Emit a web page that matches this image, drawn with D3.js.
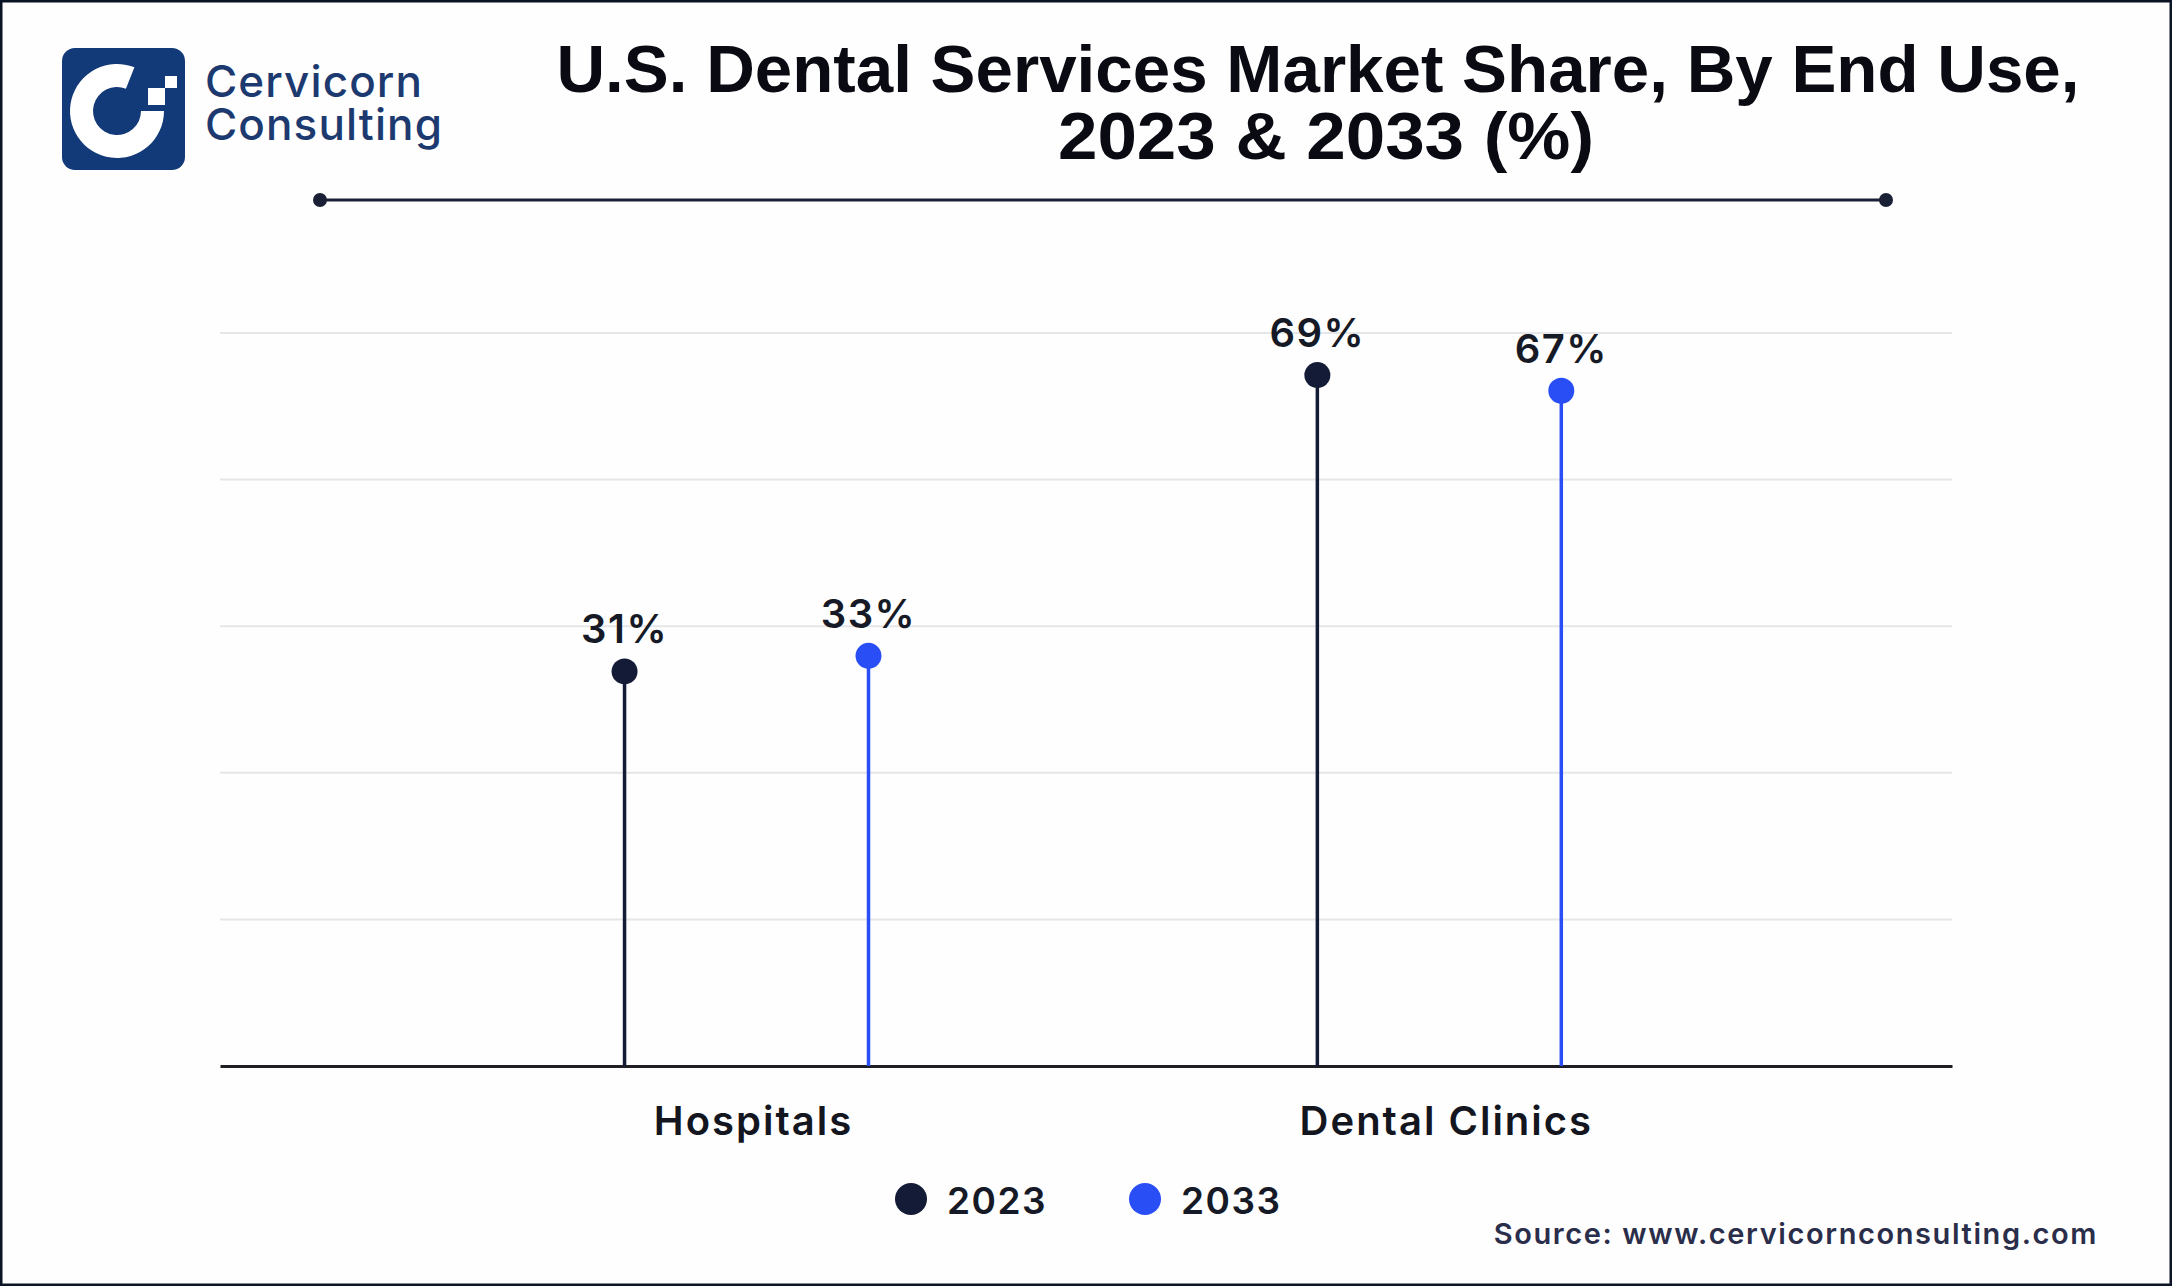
<!DOCTYPE html>
<html>
<head>
<meta charset="utf-8">
<script src="https://cdn.jsdelivr.net/npm/d3@7"></script>
<style>
  html, body { margin: 0; padding: 0; background: #ffffff; }
  svg { display: block; }
</style>
</head>
<body>
<svg id="chart" width="2172" height="1286"></svg>
<script>
// ---------- data ----------
const categories = ["Hospitals", "Dental Clinics"];
const seriesYears = ["2023", "2033"];
const values2023 = [31, 69];
const values2033 = [33, 67];
const seriesColors = ["#141b36", "#2a4ef5"];
const yDomain = [-19.6, 74.4];
const gridValues = [-0.8, 18, 36.8, 55.6, 74.4];
const titleLines = ["U.S. Dental Services Market Share, By End Use,", "2023 & 2033 (%)"];
const sourceText = "Source: www.cervicornconsulting.com";

const W = 2172, H = 1286;
const svg = d3.select("#chart");

// background + frame
svg.append("rect").attr("x", 0).attr("y", 0).attr("width", W).attr("height", H).attr("fill", "#fefefe");
svg.append("rect").attr("x", 1).attr("y", 1).attr("width", W - 2).attr("height", H - 2)
  .attr("fill", "none").attr("stroke", "#0b1424").attr("stroke-width", 3);

// ---------- logo ----------
const logo = svg.append("g");
logo.append("rect").attr("x", 62).attr("y", 48).attr("width", 123).attr("height", 122)
  .attr("rx", 13).attr("fill", "#133a78");
const ring = d3.arc().innerRadius(24).outerRadius(47)
  .startAngle(Math.PI / 2).endAngle(2 * Math.PI + 0.38);
logo.append("path").attr("d", ring()).attr("transform", "translate(117,111)").attr("fill", "#ffffff");
logo.append("rect").attr("x", 148).attr("y", 88).attr("width", 17).attr("height", 17).attr("fill", "#ffffff");
logo.append("rect").attr("x", 165).attr("y", 76).attr("width", 12).attr("height", 12).attr("fill", "#ffffff");
[["Cervicorn", 97], ["Consulting", 140]].forEach(([t, yy]) => {
  logo.append("text").attr("x", 205).attr("y", yy).text(t)
    .attr("font-family", "Inter, 'Noto Sans', sans-serif").attr("font-weight", 500)
    .attr("font-size", 44).attr("letter-spacing", 1.1).attr("fill", "#1d3a70");
});

// ---------- title ----------
const titleX = [1318, 1326], titleY = [92, 159], titleW = [1523, 536];
titleLines.forEach((t, i) => {
  svg.append("text").attr("x", titleX[i]).attr("y", titleY[i]).attr("text-anchor", "middle")
    .attr("font-family", "'Liberation Sans', Arial, sans-serif").attr("font-weight", 700)
    .attr("font-size", 67).attr("fill", "#0a0a12")
    .attr("textLength", titleW[i]).attr("lengthAdjust", "spacingAndGlyphs")
    .text(t);
});
svg.append("line").attr("x1", 320).attr("x2", 1886).attr("y1", 200).attr("y2", 200)
  .attr("stroke", "#1a2035").attr("stroke-width", 3);
[320, 1886].forEach(cx => svg.append("circle").attr("cx", cx).attr("cy", 200).attr("r", 7).attr("fill", "#1a2035"));

// ---------- scales ----------
const x0 = d3.scaleBand().domain(categories).range([220, 1952])
  .paddingInner(0).paddingOuter(0.25).align(0.52);
const x1 = d3.scalePoint().domain(seriesYears).range([0, x0.bandwidth()]).padding(0.92);
const y = d3.scaleLinear().domain(yDomain).range([1066, 333]);
const color = d3.scaleOrdinal().domain(seriesYears).range(seriesColors);

// grid
svg.append("g").selectAll("line").data(gridValues).join("line")
  .attr("x1", 220).attr("x2", 1952)
  .attr("y1", d => y(d)).attr("y2", d => y(d))
  .attr("stroke", "#e6e6e8").attr("stroke-width", 2);

// axis
const axis = svg.append("g").attr("transform", `translate(0,${y(yDomain[0])})`)
  .call(d3.axisBottom(x0).tickSize(0).tickPadding(41));
axis.select(".domain").attr("stroke", "#1e1e24").attr("stroke-width", 3);
axis.selectAll("text")
  .attr("dx", 7)
  .attr("font-family", "Inter, 'Noto Sans', sans-serif").attr("font-weight", 600)
  .attr("font-size", 40).attr("letter-spacing", 2).attr("fill", "#14161f");

// ---------- lollipops ----------
const rows = [];
categories.forEach((c, i) => {
  rows.push({ cat: c, year: seriesYears[0], v: values2023[i] });
  rows.push({ cat: c, year: seriesYears[1], v: values2033[i] });
});
const gx = d => x0(d.cat) + x1(d.year);
const pts = svg.append("g");
pts.selectAll("line").data(rows).join("line")
  .attr("x1", gx).attr("x2", gx)
  .attr("y1", y(yDomain[0])).attr("y2", d => y(d.v))
  .attr("stroke", d => color(d.year)).attr("stroke-width", 3.5);
pts.selectAll("circle").data(rows).join("circle")
  .attr("cx", gx).attr("cy", d => y(d.v)).attr("r", 13)
  .attr("fill", d => color(d.year));
pts.selectAll("text").data(rows).join("text")
  .attr("x", gx).attr("y", d => y(d.v) - 28).attr("text-anchor", "middle")
  .attr("font-family", "Inter, 'Noto Sans', sans-serif").attr("font-weight", 600)
  .attr("font-size", 40).attr("letter-spacing", 1.5).attr("fill", "#161a26")
  .text(d => d.v + "%");

// ---------- legend ----------
const legend = svg.append("g").selectAll("g").data(seriesYears).join("g")
  .attr("transform", (d, i) => `translate(${911 + i * 234},1199)`);
legend.append("circle").attr("r", 16).attr("fill", d => color(d));
legend.append("text").attr("x", 36).attr("y", 15).text(d => d)
  .attr("font-family", "Inter, 'Noto Sans', sans-serif").attr("font-weight", 600)
  .attr("font-size", 37).attr("letter-spacing", 1.5).attr("fill", "#161a26");

// ---------- source ----------
svg.append("text").attr("x", 2098).attr("y", 1244).attr("text-anchor", "end")
  .attr("font-family", "Inter, 'Noto Sans', sans-serif").attr("font-weight", 600)
  .attr("font-size", 29).attr("letter-spacing", 1.6).attr("fill", "#2b2e4a")
  .text(sourceText);
</script>
</body>
</html>
